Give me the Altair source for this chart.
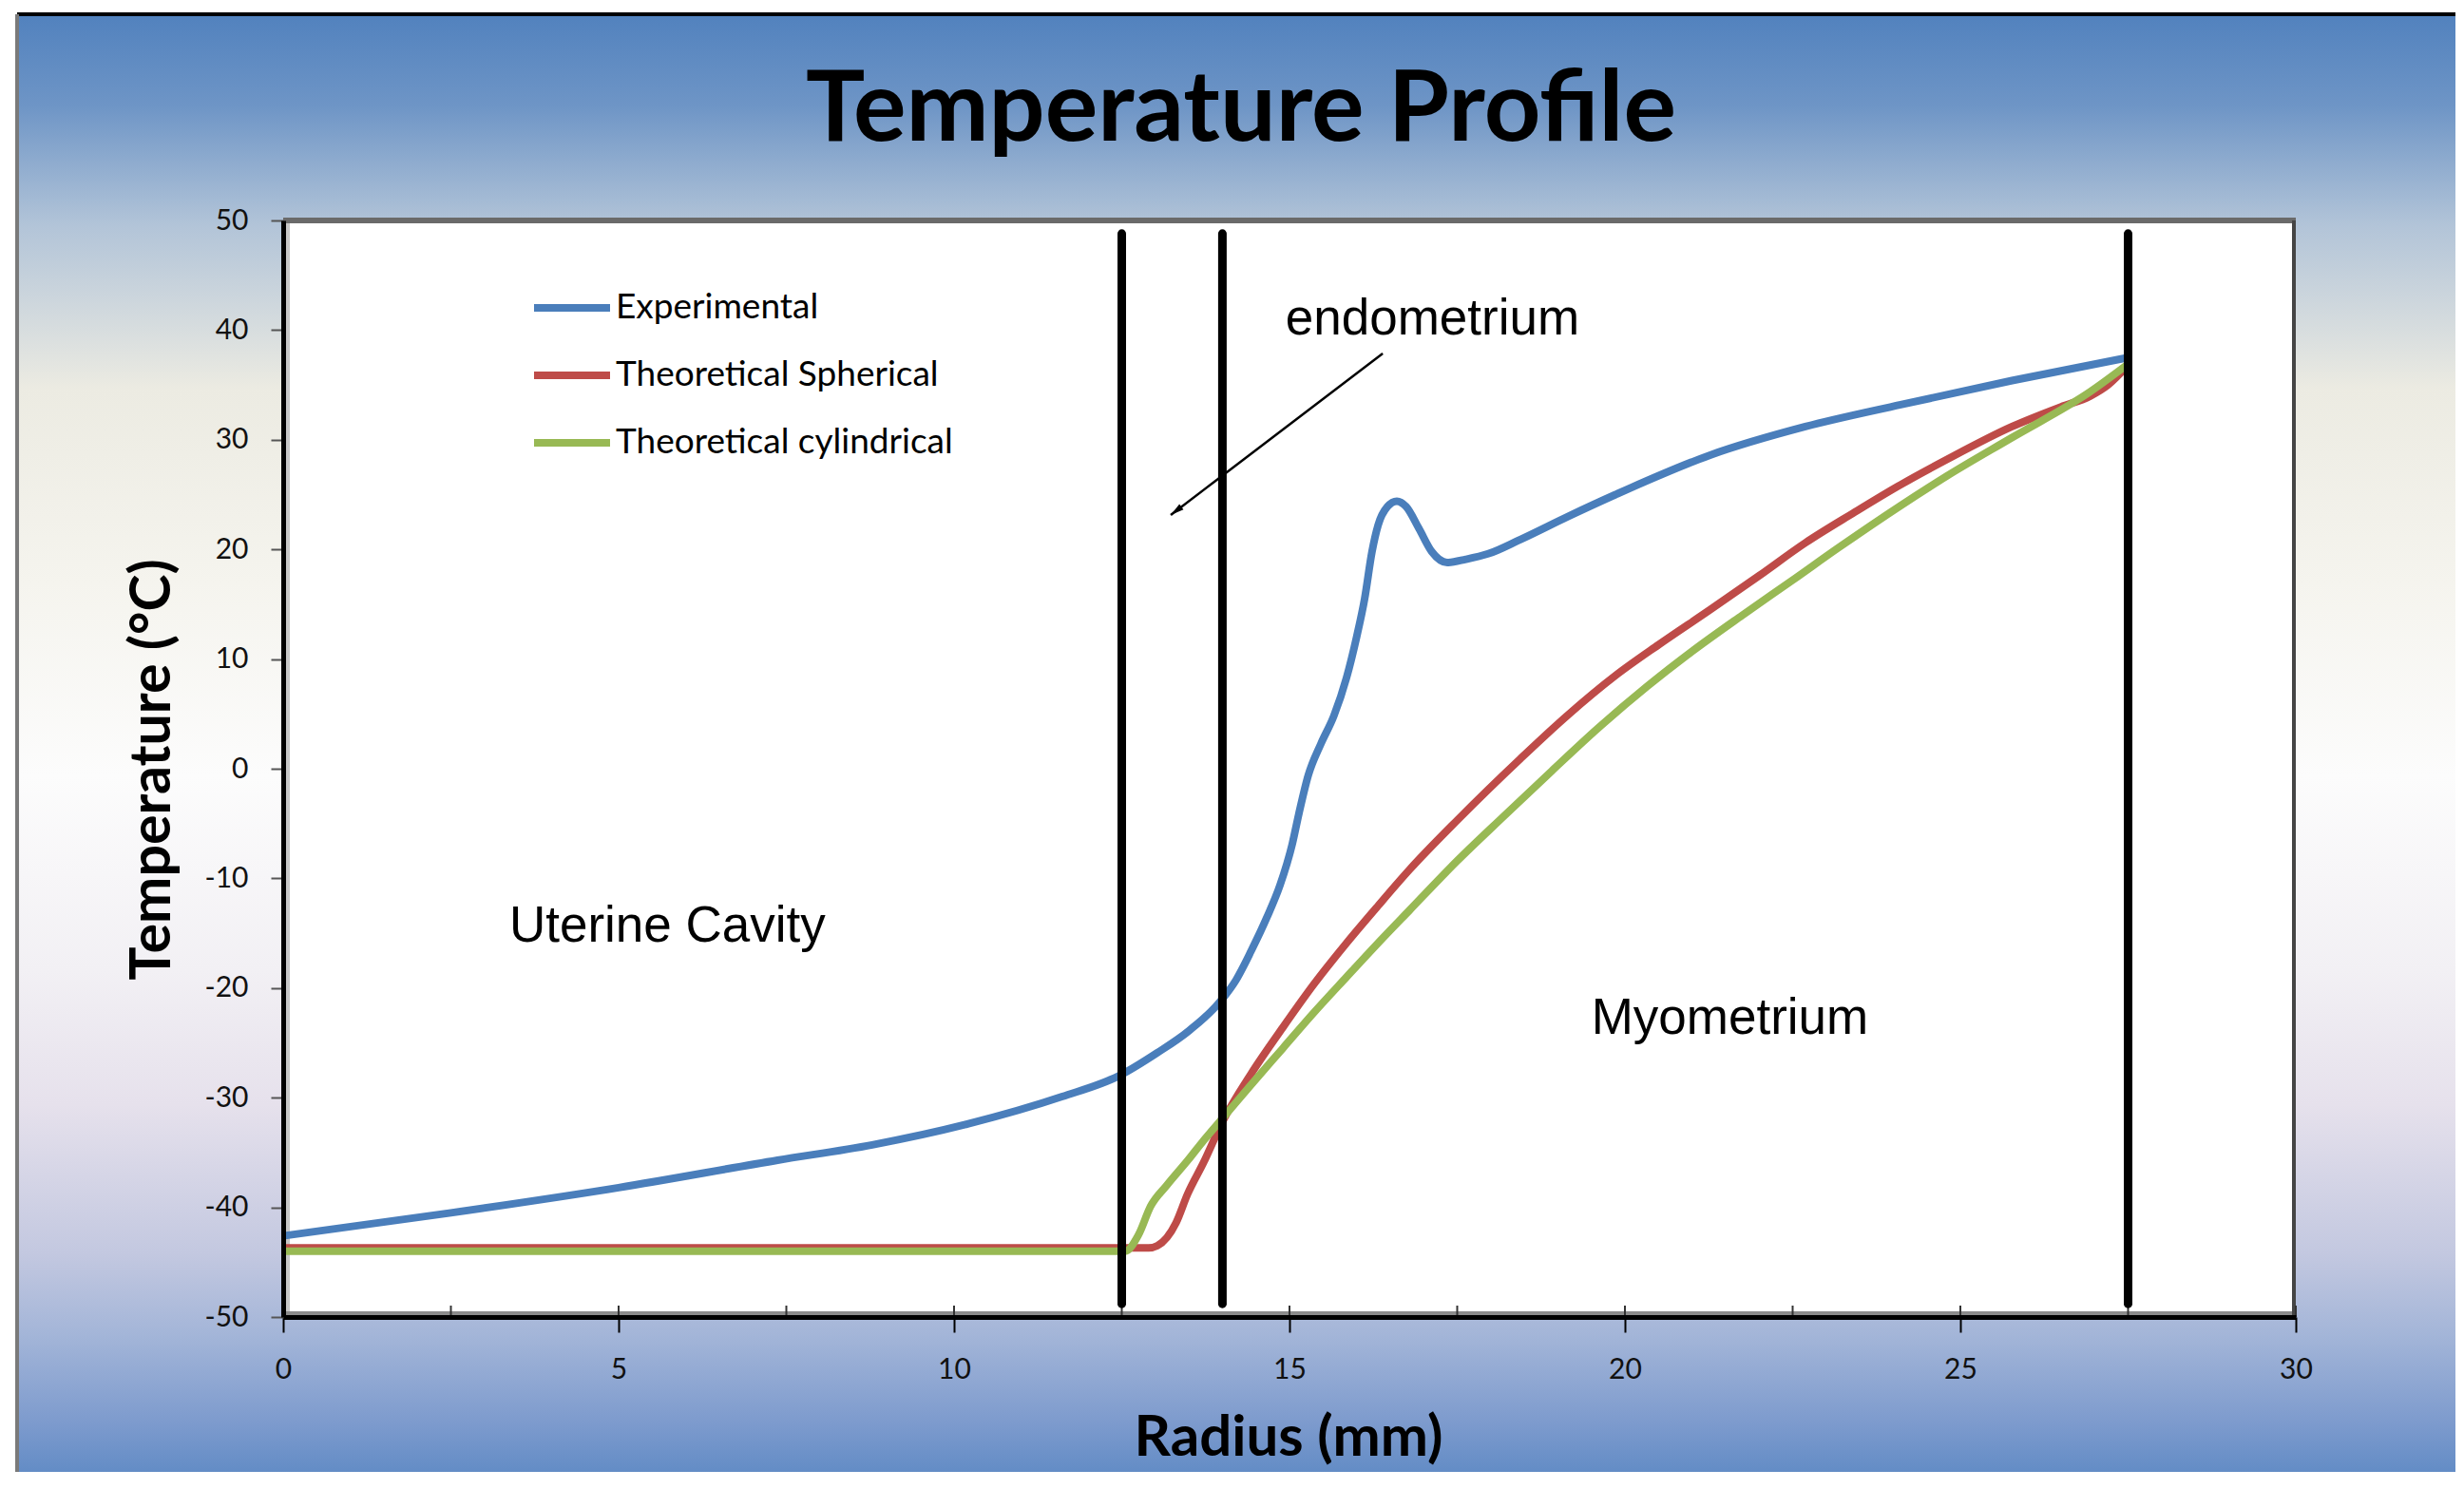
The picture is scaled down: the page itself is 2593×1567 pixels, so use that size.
import altair as alt
import pandas as pd

# ---------------- data ----------------
series_names = ["Experimental", "Theoretical Spherical", "Theoretical cylindrical"]
series_colors = ["#4A7EBB", "#BE4B48", "#98B954"]

exp_r = [0, 2.5, 5, 7.37, 8.78, 10.2, 11.61, 12.46, 13.03, 13.5, 14.0, 14.2, 14.43,
         14.66, 14.86, 15.04, 15.14, 15.28, 15.47, 15.66, 15.85, 16.0, 16.12, 16.23,
         16.32, 16.46, 16.6, 16.74, 16.93, 17.12, 17.35, 17.63, 17.96, 18.44, 19.15,
         19.86, 21.27, 22.69, 24.11, 25.77, 27.5]
exp_t = [-42.6, -40.5, -38.2, -35.7, -34.3, -32.4, -29.9, -28.0, -25.9, -23.9, -21.0,
         -19.3, -16.6, -13.6, -10.6, -6.9, -4.1, -0.6, 2.3, 4.8, 8.3, 12.0, 15.5, 19.8,
         22.2, 23.9, 24.4, 23.9, 21.9, 19.8, 18.8, 19.1, 19.6, 20.9, 23.0, 25.0, 28.6,
         31.2, 33.2, 35.4, 37.5]

sph_r = [0, 12.9, 13.03, 13.31, 13.48, 13.72, 14.0, 14.43, 14.9, 15.37, 15.85, 16.32,
         16.79, 17.5, 18.44, 19.15, 19.86, 20.5, 21.27, 22.0, 22.69, 23.4, 24.11, 24.8,
         25.77, 26.5, 26.94, 27.2, 27.5]
sph_t = [-43.7, -43.7, -43.5, -41.4, -38.8, -35.9, -32.2, -27.8, -23.6, -19.6, -15.9,
         -12.5, -9.2, -4.7, 0.9, 4.9, 8.5, 11.3, 14.5, 17.6, 20.6, 23.3, 25.9, 28.2,
         31.2, 33.0, 34.0, 35.0, 36.8]

cyl_r = [0, 12.55, 12.75, 12.93, 13.17, 13.5, 13.72, 14.0, 14.43, 14.9, 15.37, 15.85,
         16.32, 16.79, 17.5, 18.2, 18.91, 19.6, 20.33, 21.0, 21.75, 22.5, 23.17, 24.11,
         24.8, 25.77, 26.94, 27.5]
cyl_t = [-44.0, -44.0, -42.5, -39.9, -38.0, -35.6, -33.9, -31.9, -28.8, -25.5, -22.2,
         -19.0, -15.9, -12.9, -8.4, -4.3, -0.2, 3.7, 7.5, 10.7, 14.0, 17.2, 20.1, 24.0,
         26.7, 30.2, 34.4, 36.9]

boundary_r = [12.5, 14.0, 27.5]

x_tick_values = [0, 5, 10, 15, 20, 25, 30]
x_minor_values = [0, 2.5, 5, 7.5, 10, 12.5, 15, 17.5, 20, 22.5, 25, 27.5, 30]
y_tick_values = [-50, -40, -30, -20, -10, 0, 10, 20, 30, 40, 50]

df = pd.concat([
    pd.DataFrame({"r": exp_r, "t": exp_t, "series": series_names[0]}),
    pd.DataFrame({"r": sph_r, "t": sph_t, "series": series_names[1]}),
    pd.DataFrame({"r": cyl_r, "t": cyl_t, "series": series_names[2]}),
], ignore_index=True)

W, H = 2118, 1154
one = alt.Data(values=[{"k": 1}])

x_scale = alt.Scale(domain=[0, 30], nice=False, zero=False)
y_scale = alt.Scale(domain=[-50, 50], nice=False, zero=False)

# ---------------- background decoration ----------------
gradient = alt.LinearGradient(
    gradient="linear", x1=0, x2=0, y1=0, y2=1,
    stops=[
        alt.GradientStop(offset=0.0, color="#5282BE"),
        alt.GradientStop(offset=0.06, color="#6E95C6"),
        alt.GradientStop(offset=0.14, color="#B2C4D8"),
        alt.GradientStop(offset=0.25, color="#ECEBE2"),
        alt.GradientStop(offset=0.38, color="#F5F4EE"),
        alt.GradientStop(offset=0.51, color="#FCFCFC"),
        alt.GradientStop(offset=0.64, color="#F2F0F4"),
        alt.GradientStop(offset=0.73, color="#E6E1EC"),
        alt.GradientStop(offset=0.83, color="#C3C8E0"),
        alt.GradientStop(offset=0.885, color="#A3B5D8"),
        alt.GradientStop(offset=0.945, color="#7C9ACD"),
        alt.GradientStop(offset=1.0, color="#5082C0"),
    ],
)

bg = alt.Chart(one).mark_rect(fill=gradient).encode(
    x=alt.value(-278), x2=alt.value(W + 200), y=alt.value(-215), y2=alt.value(H + 200)
)
frame_top = alt.Chart(one).mark_rule(color="black", strokeWidth=4).encode(
    x=alt.value(-280), x2=alt.value(W + 200), y=alt.value(-217)
)
frame_left = alt.Chart(one).mark_rule(color="#7A7A7A", strokeWidth=4).encode(
    x=alt.value(-280), y=alt.value(-217), y2=alt.value(H + 200)
)
plot_bg = alt.Chart(one).mark_rect(fill="white").encode(
    x=alt.value(0), x2=alt.value(W), y=alt.value(0), y2=alt.value(H)
)
top_border = alt.Chart(one).mark_rule(color="#6A6A6A", strokeWidth=6).encode(
    x=alt.value(0), x2=alt.value(W), y=alt.value(0)
)
right_border = alt.Chart(one).mark_rule(color="#454545", strokeWidth=4).encode(
    x=alt.value(W - 2), y=alt.value(0), y2=alt.value(H)
)
y_shadow = alt.Chart(one).mark_rule(color="#C8C8C8", strokeWidth=4).encode(
    x=alt.value(5), y=alt.value(0), y2=alt.value(H)
)
x_shadow = alt.Chart(one).mark_rule(color="#8C8C8C", strokeWidth=4).encode(
    x=alt.value(0), x2=alt.value(W), y=alt.value(H - 4)
)

# inner (upward) x ticks at every 2.5 mm
minor_ticks = alt.Chart(pd.DataFrame({"r": x_minor_values})).mark_rule(
    color="#333333", strokeWidth=2
).encode(
    x=alt.X("r:Q", scale=x_scale, axis=None),
    y=alt.value(H - 12), y2=alt.value(H),
)

# ---------------- data lines ----------------
lines = alt.Chart(df).mark_line(strokeWidth=8, interpolate="monotone").encode(
    x=alt.X("r:Q", scale=x_scale, axis=alt.Axis(
        values=x_tick_values, title=None, grid=False, tickSize=16, tickWidth=2,
        tickColor="black", domainColor="black", domainWidth=5, labelFont="Lato",
        labelFontSize=30, labelColor="#111111", labelPadding=24, labelFlush=False,
        orient="bottom", zindex=1)),
    y=alt.Y("t:Q", scale=y_scale, axis=alt.Axis(
        values=y_tick_values, title=None, grid=False, tickSize=13, tickWidth=2,
        tickColor="#555555", domainColor="black", domainWidth=5, labelFont="Lato",
        labelFontSize=30, labelColor="#111111", labelPadding=24,
        labelExpr="replace(datum.label, '\u2212', '-')", orient="left", zindex=1)),
    color=alt.Color("series:N", scale=alt.Scale(domain=series_names, range=series_colors),
                    legend=alt.Legend(orient="none", legendX=260, legendY=57.5, title=None,
                                      symbolType="stroke", symbolSize=6400,
                                      symbolStrokeWidth=8, labelFont="Lato",
                                      labelFontSize=37, labelColor="black",
                                      clipHeight=69, rowPadding=2, labelOffset=2,
                                      padding=0, labelLimit=0)),
    detail="series:N",
)

# ---------------- boundaries & annotations ----------------
bounds = alt.Chart(pd.DataFrame({"r": boundary_r})).mark_rule(
    color="black", strokeWidth=9, strokeCap="round"
).encode(
    x=alt.X("r:Q", scale=x_scale, axis=None),
    y=alt.YDatum(48.8, axis=None),
    y2=alt.datum(-48.8),
)

arrow_line = alt.Chart(one).mark_rule(color="black", strokeWidth=2.5).encode(
    x=alt.XDatum(16.39, axis=None), y=alt.YDatum(37.87, axis=None),
    x2=alt.datum(13.23), y2=alt.datum(23.14),
)
arrow_head = alt.Chart(one).mark_point(
    shape="M0,-1L0.5,1L-0.5,1Z", filled=True, size=200, angle=233, color="black",
    opacity=1, xOffset=5.6, yOffset=-4.3
).encode(x=alt.XDatum(13.23, axis=None), y=alt.YDatum(23.14, axis=None))


def label(text, x, y):
    return alt.Chart(one).mark_text(
        text=text, font="Liberation Sans", fontSize=53, color="black",
        align="left", baseline="alphabetic"
    ).encode(x=alt.XDatum(x, axis=None), y=alt.YDatum(y, axis=None))


lbl_cavity = label("Uterine Cavity", 3.37, -15.8)
lbl_endo = label("endometrium", 14.94, 39.6)
lbl_myo = label("Myometrium", 19.5, -24.2)

title = alt.Chart(one).mark_text(
    text="Temperature Profile", font="Lato", fontWeight="bold", fontSize=104,
    color="black", align="center", baseline="alphabetic"
).encode(x=alt.value(1008), y=alt.value(-84))

x_title = alt.Chart(one).mark_text(
    text="Radius (mm)", font="Lato", fontWeight="bold", fontSize=60,
    color="black", align="center", baseline="alphabetic"
).encode(x=alt.value(1058), y=alt.value(1300))

y_title = alt.Chart(one).mark_text(
    text="Temperature (°C)", font="Lato", fontWeight="bold", fontSize=59,
    color="black", align="center", baseline="alphabetic", angle=270
).encode(x=alt.value(-119), y=alt.value(578))

chart = alt.layer(
    bg, frame_top, frame_left, plot_bg, y_shadow, x_shadow, top_border, right_border,
    minor_ticks, lines, bounds, arrow_line, arrow_head,
    lbl_cavity, lbl_endo, lbl_myo, title, x_title, y_title,
).resolve_axis(x="independent", y="independent").properties(
    width=W, height=H,
    autosize=alt.AutoSizeParams(type="none"),
    padding={"left": 290, "top": 224, "right": 168, "bottom": 163},
    background="white",
).configure_view(stroke="transparent")

chart.save("out.html", embed_options={"renderer": "svg", "actions": False})
